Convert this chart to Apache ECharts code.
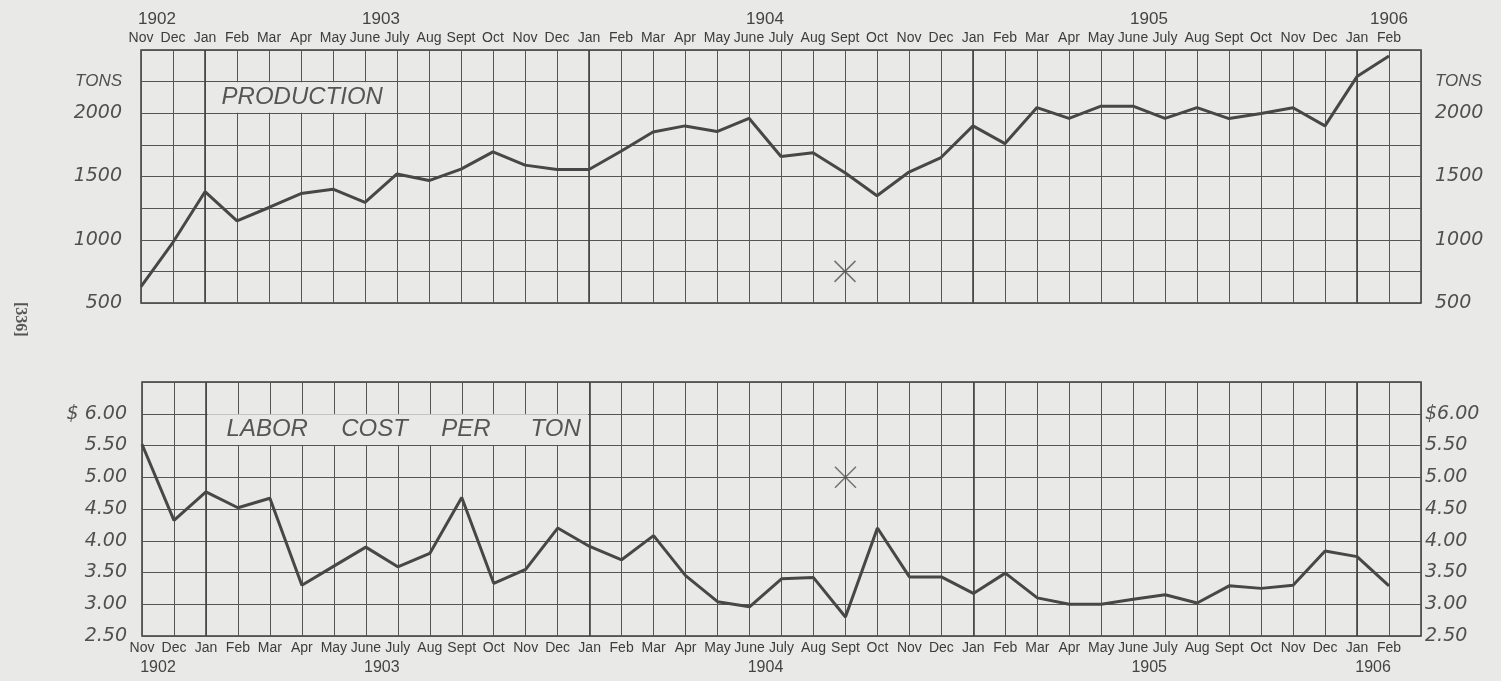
<!DOCTYPE html>
<html>
<head>
<meta charset="utf-8">
<script src="https://cdn.jsdelivr.net/npm/echarts@6/dist/echarts.min.js"></script>
<style>
html,body{margin:0;padding:0;background:#e9e9e7;}
#c{width:1501px;height:681px;}
</style>
</head>
<body>
<div id="c"></div>
<script>
// ---- data ----
const months = ['Nov','Dec','Jan','Feb','Mar','Apr','May','June','July','Aug','Sept','Oct',
  'Nov','Dec','Jan','Feb','Mar','Apr','May','June','July','Aug','Sept','Oct',
  'Nov','Dec','Jan','Feb','Mar','Apr','May','June','July','Aug','Sept','Oct',
  'Nov','Dec','Jan','Feb'];
const years = ['1902','1903','1904','1905','1906'];
const yearAtTop = [0.5, 7.5, 19.5, 31.5, 39];
const yearAtBottom = [0.5, 7.5, 19.5, 31.5, 38.5];
const production = [630, 980, 1380, 1150, 1255, 1365, 1400, 1295, 1520, 1468, 1558, 1695,
  1590, 1555, 1555, 1700, 1852, 1900, 1855, 1960, 1658, 1688, 1530, 1348,
  1535, 1650, 1900, 1760, 2045, 1960, 2056, 2056, 1960, 2044, 1958, 1998,
  2044, 1900, 2290, 2452];
const laborCost = [5.52, 4.32, 4.77, 4.52, 4.67, 3.30, 3.60, 3.90, 3.59, 3.80, 4.68, 3.33,
  3.55, 4.20, 3.91, 3.70, 4.08, 3.45, 3.04, 2.96, 3.40, 3.42, 2.80, 4.20,
  3.43, 3.43, 3.17, 3.49, 3.10, 3.00, 3.00, 3.08, 3.15, 3.02, 3.29, 3.25,
  3.30, 3.84, 3.75, 3.29];
const crossMonth = [22];
const crossProduction = [750];
const crossCost = [5.00];
const prodTitle = 'PRODUCTION';
const costTitle = 'LABOR     COST     PER      TON';
const pageNo = '[336]';

// ---- styles ----
const BG = '#e9e9e7';
const INK = '#474747';
const GRIDC = '#555555';
const sans = "'Liberation Sans','DejaVu Sans',sans-serif";
const wide = "'DejaVu Sans','Liberation Sans',sans-serif";

const janLines = months.map((m,i)=> m === 'Jan' ? i : -1).filter(i => i >= 0);

function yearFmt(pos){ return v => { const i = pos.indexOf(v); return i >= 0 ? years[i] : ''; }; }

const monthAxisBase = {
  type:'value', min:0, max:40, interval:1,
  axisLine:{show:false}, axisTick:{show:false},
  splitLine:{show:true, lineStyle:{color:GRIDC, width:1}},
  axisLabel:{formatter:v => months[v] || '', color:'#3c3c3c', fontFamily:sans, fontSize:14, margin:5, showMinLabel:true, showMaxLabel:true}
};
const yearAxisBase = {
  type:'value', min:0, max:40, interval:0.5,
  axisLine:{show:false}, axisTick:{show:false}, splitLine:{show:false},
  axisLabel:{color:'#444', fontFamily:sans, fontSize:17, showMinLabel:true, showMaxLabel:true}
};

const prodLabel = v => (v === 2250 ? '{t|TONS}' : (v % 500 === 0 && v <= 2000 ? String(v) : ''));
const costLabelL = v => (v > 6 ? '' : (v === 6 ? '$ 6.00' : v.toFixed(2)));
const costLabelR = v => (v > 6 ? '' : (v === 6 ? '$6.00' : v.toFixed(2)));
const yLabelStyle = {color:'#505050', fontFamily:wide, fontStyle:'italic', fontSize:19, showMinLabel:true, showMaxLabel:true,
  rich:{t:{color:'#505050', fontFamily:sans, fontStyle:'italic', fontSize:17}}};
const markLineJan = {silent:true, symbol:'none', label:{show:false}, z:2,
  lineStyle:{color:'#454545', width:1.6, type:'solid'},
  data: janLines.map(i => ({xAxis:i}))};

const chart = echarts.init(document.getElementById('c'), null, {renderer:'canvas'});
chart.setOption({
  backgroundColor: BG,
  animation:false,
  grid:[
    {left:141, right:80, top:50, height:253, show:true, borderColor:'#3a3a3a', borderWidth:1.5, backgroundColor:'transparent'},
    {left:142, right:80, top:382, height:254, show:true, borderColor:'#3a3a3a', borderWidth:1.5, backgroundColor:'transparent'}
  ],
  xAxis:[
    Object.assign({}, monthAxisBase, {gridIndex:0, position:'top'}),
    Object.assign({}, yearAxisBase, {gridIndex:0, position:'top', axisLabel:Object.assign({}, yearAxisBase.axisLabel, {formatter:yearFmt(yearAtTop), margin:22})}),
    Object.assign({}, monthAxisBase, {gridIndex:1, position:'bottom'}),
    Object.assign({}, yearAxisBase, {gridIndex:1, position:'bottom', axisLabel:Object.assign({}, yearAxisBase.axisLabel, {formatter:yearFmt(yearAtBottom), margin:24, fontSize:16})})
  ],
  yAxis:[
    {type:'value', gridIndex:0, position:'left', min:500, max:2500, interval:250,
      axisLine:{show:false}, axisTick:{show:false},
      splitLine:{show:true, lineStyle:{color:GRIDC, width:1}},
      axisLabel:Object.assign({}, yLabelStyle, {formatter:prodLabel, margin:19})},
    {type:'value', gridIndex:0, position:'right', min:500, max:2500, interval:250,
      axisLine:{show:false}, axisTick:{show:false}, splitLine:{show:false},
      axisLabel:Object.assign({}, yLabelStyle, {formatter:prodLabel, margin:14})},
    {type:'value', gridIndex:1, position:'left', min:2.5, max:6.5, interval:0.5,
      axisLine:{show:false}, axisTick:{show:false},
      splitLine:{show:true, lineStyle:{color:GRIDC, width:1}},
      axisLabel:Object.assign({}, yLabelStyle, {formatter:costLabelL, margin:15})},
    {type:'value', gridIndex:1, position:'right', min:2.5, max:6.5, interval:0.5,
      axisLine:{show:false}, axisTick:{show:false}, splitLine:{show:false},
      axisLabel:Object.assign({}, yLabelStyle, {formatter:costLabelR, margin:4})}
  ],
  graphic:[
    {type:'text', left:12, top:302, rotation:-Math.PI/2, originX:0, originY:0,
      style:{text:pageNo, fill:'#555', font:"bold 16px 'Liberation Serif', serif"}}
  ],
  series:[
    {type:'line', xAxisIndex:0, yAxisIndex:0, symbol:'none', z:5,
      data: production.map((v,i)=>[i,v]),
      lineStyle:{color:INK, width:3},
      markLine: markLineJan,
      markArea:{silent:true, z:1,
        itemStyle:{color:BG},
        label:{show:true, position:'insideLeft', offset:[10,0], color:'#555', fontFamily:sans, fontStyle:'italic', fontSize:24},
        data:[[{xAxis:2.05, yAxis:2004, name:prodTitle},{xAxis:7.97, yAxis:2246}]]}},
    {type:'line', xAxisIndex:2, yAxisIndex:2, symbol:'none', z:5,
      data: laborCost.map((v,i)=>[i,v]),
      lineStyle:{color:INK, width:3},
      markLine: markLineJan,
      markArea:{silent:true, z:1,
        itemStyle:{color:BG},
        label:{show:true, position:'insideLeft', offset:[14,0], color:'#555', fontFamily:sans, fontStyle:'italic', fontSize:24},
        data:[[{xAxis:2.05, yAxis:5.508, name:costTitle},{xAxis:13.95, yAxis:5.992}]]}},
    {type:'scatter', xAxisIndex:0, yAxisIndex:0, symbol:'path://M0,0L10,10M10,0L0,10', symbolSize:21,
      itemStyle:{color:'transparent', borderColor:'#555', borderWidth:1.5},
      data: crossMonth.map((m,i)=>[m, crossProduction[i]])},
    {type:'scatter', xAxisIndex:2, yAxisIndex:2, symbol:'path://M0,0L10,10M10,0L0,10', symbolSize:21,
      itemStyle:{color:'transparent', borderColor:'#555', borderWidth:1.5},
      data: crossMonth.map((m,i)=>[m, crossCost[i]])}
  ]
});
</script>
</body>
</html>
